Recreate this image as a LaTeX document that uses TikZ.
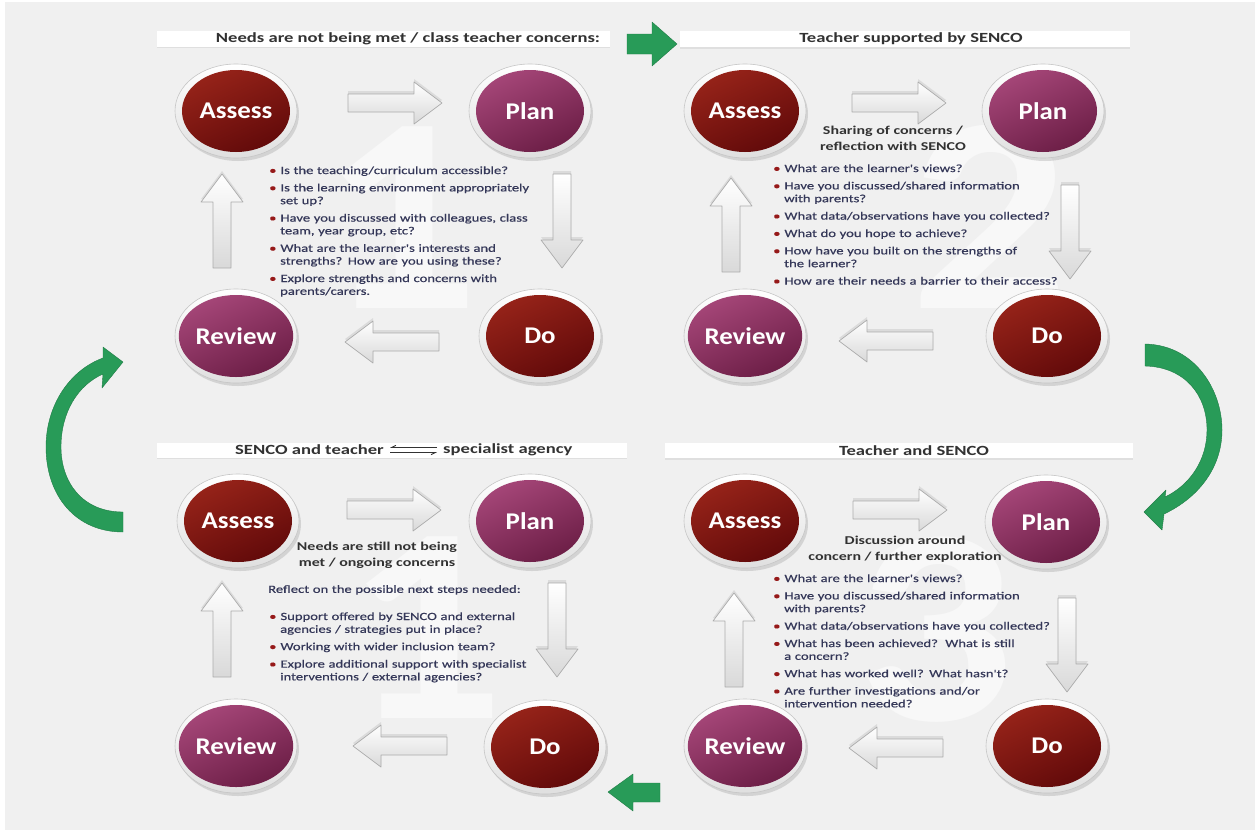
\documentclass[tikz,border=0pt]{standalone}
\usepackage{fontspec}
\setmainfont{Carlito}
\newfontfamily\bodyf[FakeStretch=1.33]{Carlito}
\newfontfamily\bodyfb[FakeStretch=1.33,FakeBold=0.5]{Carlito}
\newfontfamily\labf[FakeStretch=1.12]{Carlito}
\usetikzlibrary{shapes.geometric,shadows,arrows.meta,calc}
\definecolor{bg}{RGB}{240,240,240}
\definecolor{numc}{RGB}{248,248,248}
\definecolor{redA}{RGB}{150,35,25}
\definecolor{redB}{RGB}{98,10,10}
\definecolor{purA}{RGB}{165,70,120}
\definecolor{purB}{RGB}{108,30,70}
\definecolor{txt}{RGB}{52,55,88}
\definecolor{ttl}{RGB}{50,50,50}
\definecolor{grn}{RGB}{40,155,88}
\definecolor{bul}{RGB}{150,25,25}
\newenvironment{blist}{\begin{list}{\textcolor{bul}{\textbullet}}{\setlength{\leftmargin}{11pt}\setlength{\labelsep}{4pt}\setlength{\labelwidth}{7pt}\setlength{\itemsep}{4.6pt}\setlength{\parsep}{0pt}\setlength{\topsep}{0pt}\setlength{\partopsep}{0pt}\setlength{\itemindent}{0pt}}}{\end{list}}
\tikzset{
  ring/.style={ellipse, minimum width=122pt, minimum height=94pt, draw=gray!45, line width=0.6pt,
    top color=white, bottom color=gray!25, drop shadow={opacity=0.25, shadow xshift=2pt, shadow yshift=-3pt}},
  ballbase/.style={ellipse, minimum width=108pt, minimum height=82pt, inner sep=0pt, text=white,
    font=\labf\bfseries\fontsize{24}{24}\selectfont},
  redball/.style={ballbase, top color=redA, bottom color=redB, shading angle=25},
  purball/.style={ballbase, top color=purA, bottom color=purB, shading angle=25},
  bar/.style={fill=white, inner sep=0pt, drop shadow={opacity=0.15, shadow xshift=0pt, shadow yshift=-1.5pt}},
  hdr/.style={inner sep=0pt, text=ttl, font=\bodyf\bfseries\fontsize{14}{15}\selectfont},
  ttlnode/.style={inner sep=0pt, align=center, text=ttl, font=\bodyf\bfseries\fontsize{12}{16}\selectfont},
  listnode/.style={anchor=north west, inner sep=0pt, text width=300pt, align=left, text=txt,
    font=\bodyfb\fontsize{11}{12.8}\selectfont},
  bignum/.style={anchor=base, inner sep=0pt, text=numc, font=\labf\bfseries\fontsize{280}{280}\selectfont},
  barrow/.pic={\draw[draw=gray!65, line width=0.7pt, top color=white, bottom color=gray!30, line join=round,
      drop shadow={opacity=0.18, shadow xshift=0pt, shadow yshift=3pt}]
      (-47,-9) -- (19,-9) -- (19,-21) -- (47,0) -- (19,21) -- (19,9) -- (-47,9) -- cycle;},
  greenarrow/.style={fill=grn, draw=grn!80!black, line width=0.4pt, line join=round},
  harp/.style={line width=0.9pt, draw=ttl, -{Straight Barb[right,length=4pt,width=4pt]}}
}
\newcommand{\ball}[5]{\node[ring] (#1ring) at (#2,#3) {};\node[#4] (#1) at (#1ring) {#5};}
\begin{document}
\begin{tikzpicture}[x=1pt,y=-1pt]
\useasboundingbox (0,0) rectangle (1257,830);
\fill[white] (0,0) rectangle (1257,830);
\fill[bg] (5,2) rectangle (1255,830);

% big faint numerals
\node[bignum] (n1) at (400,308) {1};
\node[bignum] (n2) at (990,308) {2};
\node[bignum] (n4) at (425,718) {1};
\node[bignum] (n3) at (935,720) {3};

% header bars
\node[bar, minimum width=453pt, minimum height=16pt] (b1) at (383.5,38.5) {};
\node[bar, minimum width=450pt, minimum height=16pt] (b2) at (905,39) {};
\node[bar, minimum width=470pt, minimum height=15pt] (b3) at (392,450) {};
\node[bar, minimum width=468pt, minimum height=15pt] (b4) at (899,450.5) {};
\node[hdr] (h1) at (408,38.5) {Needs are not being met / class teacher concerns:};
\node[hdr] (h2) at (911,39) {Teacher supported by SENCO};
\node[hdr, anchor=east] (h3a) at (384,450) {SENCO and teacher};
\node[hdr, anchor=west] (h3b) at (443,450) {specialist agency};
\node[hdr] (h4) at (914,450.5) {Teacher and SENCO};
\draw[harp] ($(h3b.west)+(-6,-2.6)$) -- ($(h3a.east)+(6,-2.6)$);
\draw[harp] ($(h3a.east)+(6,2.6)$) -- ($(h3b.west)+(-6,2.6)$);

% block arrows
\pic at (395,103) {barrow};
\pic[rotate=-90] at (562,221) {barrow};
\pic[rotate=180] at (392,342) {barrow};
\pic[rotate=90] at (222,221) {barrow};
\pic at (899,103) {barrow};
\pic[rotate=-90] at (1070,232) {barrow};
\pic[rotate=180] at (886,341) {barrow};
\pic[rotate=90] at (731,225) {barrow};
\pic at (394,510) {barrow};
\pic[rotate=-90] at (557,630) {barrow};
\pic[rotate=180] at (400,746) {barrow};
\pic[rotate=90] at (222,630) {barrow};
\pic at (900,510) {barrow};
\pic[rotate=-90] at (1067,645) {barrow};
\pic[rotate=180] at (896,748) {barrow};
\pic[rotate=90] at (734,640) {barrow};

% circles
\ball{q1a}{236}{111}{redball}{Assess}
\ball{q1p}{530}{111}{purball}{Plan}
\ball{q1r}{236}{336}{purball}{Review}
\ball{q1d}{540}{336}{redball}{Do}
\ball{q2a}{745}{111}{redball}{Assess}
\ball{q2p}{1043}{111}{purball}{Plan}
\ball{q2r}{745}{336}{purball}{Review}
\ball{q2d}{1047}{336}{redball}{Do}
\ball{q3a}{238}{521}{redball}{Assess}
\ball{q3p}{530}{521}{purball}{Plan}
\ball{q3r}{236}{746}{purball}{Review}
\ball{q3d}{545}{747}{redball}{Do}
\ball{q4a}{745}{521}{redball}{Assess}
\ball{q4p}{1046}{522}{purball}{Plan}
\ball{q4r}{745}{746}{purball}{Review}
\ball{q4d}{1047}{746}{redball}{Do}

% texts
\node[listnode] (t1) at (269,161) {\begin{blist}
\item Is the teaching/curriculum accessible?
\item Is the learning environment appropriately\newline set up?
\item Have you discussed with colleagues, class\newline team, year group, etc?
\item What are the learner's interests and\newline strengths? How are you using these?
\item Explore strengths and concerns with\newline parents/carers.
\end{blist}};

\node[ttlnode] (s2) at (893,138) {Sharing of concerns /\\reflection with SENCO};
\node[listnode] (t2) at (773,159) {\begin{blist}
\item What are the learner's views?
\item Have you discussed/shared information\newline with parents?
\item What data/observations have you collected?
\item What do you hope to achieve?
\item How have you built on the strengths of\newline the learner?
\item How are their needs a barrier to their access?
\end{blist}};

\node[ttlnode] (s3) at (377,555) {Needs are still not being\\met / ongoing concerns};
\node[listnode] (r3) at (268,585) {Reflect on the possible next steps needed:};
\node[listnode] (t3) at (269,607) {\begin{blist}
\item Support offered by SENCO and external\newline agencies / strategies put in place?
\item Working with wider inclusion team?
\item Explore additional support with specialist\newline interventions / external agencies?
\end{blist}};

\node[ttlnode] (s4) at (905,549) {Discussion around\\concern / further exploration};
\node[listnode] (t4) at (773,569) {\begin{blist}
\item What are the learner's views?
\item Have you discussed/shared information\newline with parents?
\item What data/observations have you collected?
\item What has been achieved?\ \ What is still\newline a concern?
\item What has worked well? What hasn't?
\item Are further investigations and/or\newline intervention needed?
\end{blist}};

% green arrows
\draw[greenarrow] (627,34) -- (652,34) -- (652,22) -- (677,44) -- (652,66) -- (652,54) -- (627,54) -- cycle;
\draw[greenarrow] (660,783) -- (633,783) -- (633,774) -- (608,792) -- (633,811) -- (633,802) -- (660,802) -- cycle;
\draw[greenarrow] (123,512) .. controls (82,512) and (61,482) .. (61,447)
   .. controls (61,412) and (78,385) .. (103,374) -- (102,388) -- (123,362) -- (103,347) -- (103,358)
   .. controls (70,370) and (46,405) .. (46,447) .. controls (46,495) and (75,532) .. (123,532) -- cycle;
\draw[greenarrow] (1145,344) .. controls (1195,345) and (1222,390) .. (1222,430)
   .. controls (1222,468) and (1198,498) .. (1164,514) -- (1162,530) -- (1144,512) -- (1166,490) -- (1165,497)
   .. controls (1190,485) and (1207,460) .. (1207,430) .. controls (1207,395) and (1185,367) .. (1145,366) -- cycle;
\end{tikzpicture}
\end{document}
